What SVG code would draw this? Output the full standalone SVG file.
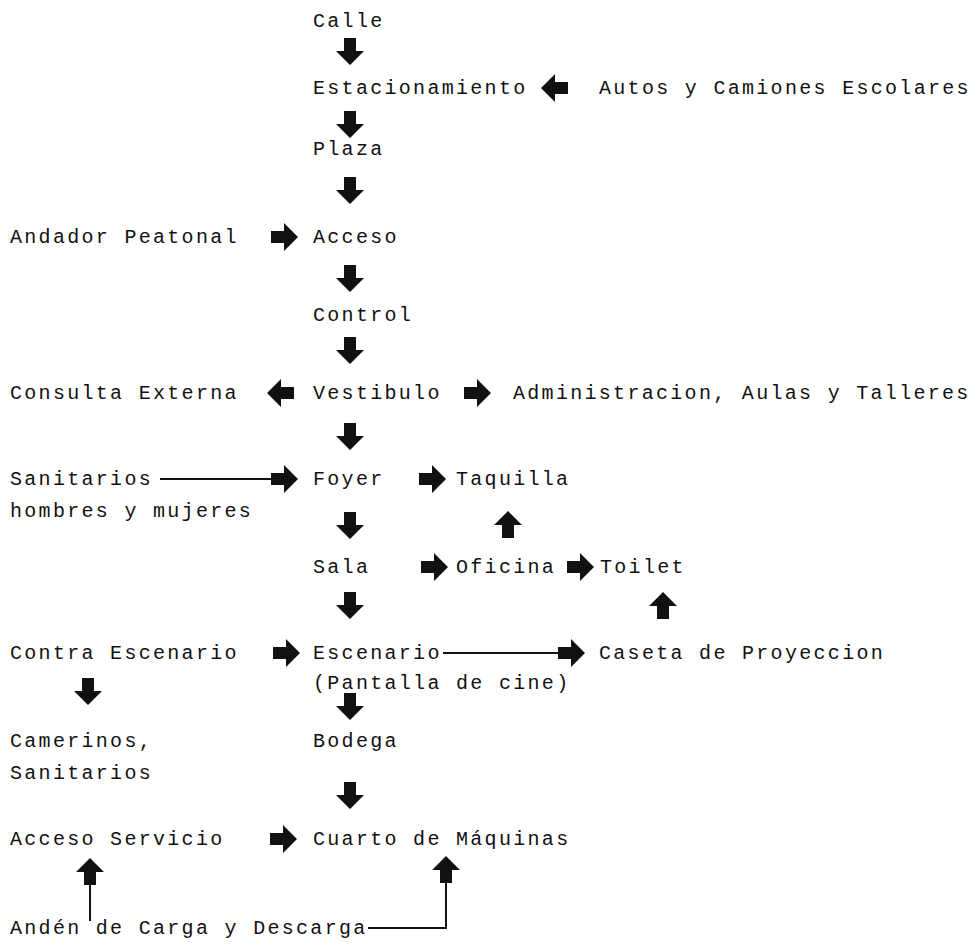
<svg xmlns="http://www.w3.org/2000/svg" width="973" height="947" viewBox="0 0 973 947">
<style>
text{font-family:"Liberation Mono","DejaVu Sans Mono",monospace;font-size:20px;letter-spacing:2.3px;fill:#111}
.ln{stroke:#111;stroke-width:2;fill:none}
</style>
<defs>
<path id="ad" d="M-6,-13H6V0H14L0,14L-14,0H-6Z" fill="#111"/>
</defs>
<rect width="973" height="947" fill="#fff"/>
<g id="calle"><text x="313" y="27">Calle</text></g>
<g id="estacionamiento"><text x="313" y="94">Estacionamiento</text></g>
<g id="autos"><text x="599" y="94">Autos y Camiones Escolares</text></g>
<g id="plaza"><text x="313" y="155">Plaza</text></g>
<g id="andador"><text x="10" y="243">Andador Peatonal</text></g>
<g id="acceso"><text x="313" y="243">Acceso</text></g>
<g id="control"><text x="313" y="321">Control</text></g>
<g id="consulta"><text x="10" y="399">Consulta Externa</text></g>
<g id="vestibulo"><text x="313" y="399">Vestibulo</text></g>
<g id="administracion"><text x="513" y="399">Administracion, Aulas y Talleres</text></g>
<g id="sanitarios"><text x="10" y="485">Sanitarios</text><text x="10" y="517">hombres y mujeres</text></g>
<g id="foyer"><text x="313" y="485">Foyer</text></g>
<g id="taquilla"><text x="456" y="485">Taquilla</text></g>
<g id="sala"><text x="313" y="573">Sala</text></g>
<g id="oficina"><text x="456" y="573">Oficina</text></g>
<g id="toilet"><text x="600" y="573">Toilet</text></g>
<g id="contra"><text x="10" y="659">Contra Escenario</text></g>
<g id="escenario"><text x="313" y="659">Escenario</text><text x="313" y="689">(Pantalla de cine)</text></g>
<g id="caseta"><text x="599" y="659">Caseta de Proyeccion</text></g>
<g id="camerinos"><text x="10" y="747">Camerinos,</text><text x="10" y="779">Sanitarios</text></g>
<g id="bodega"><text x="313" y="747">Bodega</text></g>
<g id="accesoservicio"><text x="10" y="845">Acceso Servicio</text></g>
<g id="cuarto"><text x="313" y="845">Cuarto de Máquinas</text></g>
<g id="anden"><text x="10" y="934">Andén de Carga y Descarga</text></g>
<g id="connectors">
<use href="#ad" transform="translate(350,51)"/>
<use href="#ad" transform="translate(555,88) rotate(90)"/>
<use href="#ad" transform="translate(350,124)"/>
<use href="#ad" transform="translate(350,190)"/>
<use href="#ad" transform="translate(284,237) rotate(-90)"/>
<use href="#ad" transform="translate(350,278)"/>
<use href="#ad" transform="translate(350,350)"/>
<use href="#ad" transform="translate(281,393) rotate(90)"/>
<use href="#ad" transform="translate(477,393) rotate(-90)"/>
<use href="#ad" transform="translate(350,436)"/>
<path class="ln" d="M160,479H272"/>
<use href="#ad" transform="translate(284,479) rotate(-90)"/>
<use href="#ad" transform="translate(432,479) rotate(-90)"/>
<use href="#ad" transform="translate(508,525) rotate(180)"/>
<use href="#ad" transform="translate(350,525)"/>
<use href="#ad" transform="translate(434,567) rotate(-90)"/>
<use href="#ad" transform="translate(580,567) rotate(-90)"/>
<use href="#ad" transform="translate(663,606) rotate(180)"/>
<use href="#ad" transform="translate(350,605)"/>
<use href="#ad" transform="translate(286,653) rotate(-90)"/>
<path class="ln" d="M443,653H560"/>
<use href="#ad" transform="translate(571,653) rotate(-90)"/>
<use href="#ad" transform="translate(88,691)"/>
<use href="#ad" transform="translate(350,706)"/>
<use href="#ad" transform="translate(350,795)"/>
<use href="#ad" transform="translate(283,839) rotate(-90)"/>
<use href="#ad" transform="translate(90,872) rotate(180)"/>
<path class="ln" d="M90,884V921"/>
<use href="#ad" transform="translate(446,870) rotate(180)"/>
<path class="ln" d="M368,928H446V882"/>
</g>
</svg>
